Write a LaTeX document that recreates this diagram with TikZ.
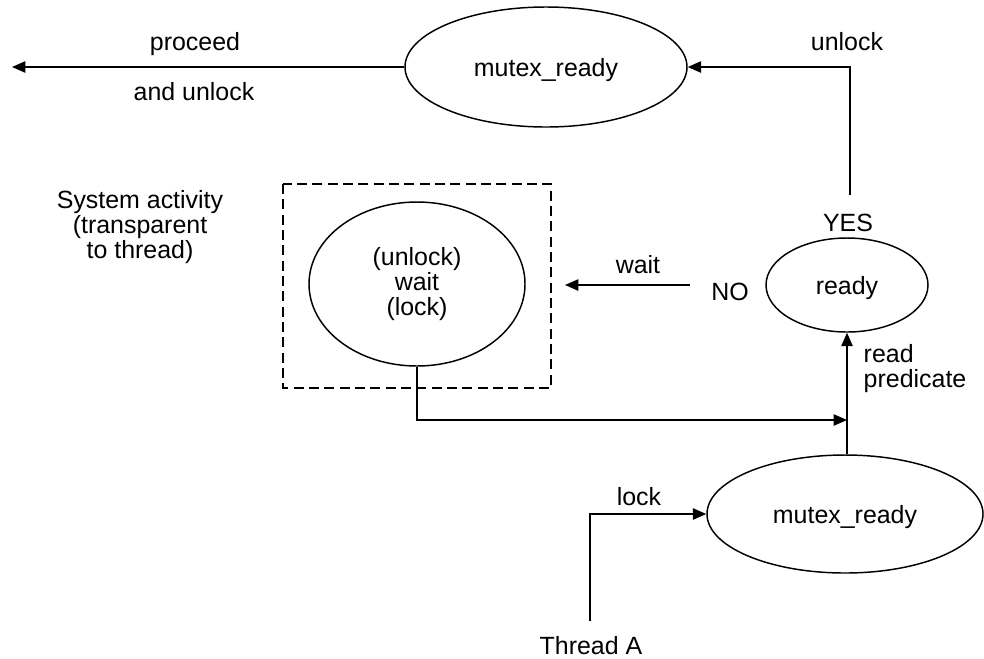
\documentclass[tikz,border=0pt]{standalone}
\usepackage{fontspec}
\setmainfont{Liberation Sans}
\usetikzlibrary{shapes.geometric,arrows.meta}
\tikzset{
  every picture/.style={line width=1.1pt},
  lbl/.style={font=\fontsize{18.7}{18.75}\selectfont, inner sep=0pt, anchor=base},
  oval/.style={draw, ellipse, inner sep=0pt, font=\fontsize{18.7}{18.75}\selectfont, text depth=0pt},
  arr/.style={-{Triangle[length=10pt,width=8.5pt]}},
  dashbox/.style={draw, dash pattern=on 7.5pt off 4pt, line width=1.1pt}
}
\begin{document}
\begin{tikzpicture}[x=0.75pt,y=-0.75pt]
\useasboundingbox (0,0) rectangle (984,658);
% nodes
\node[oval, minimum width=211.5pt, minimum height=90pt] (top) at (546,67) {mutex\_ready};
\node[oval, minimum width=121.5pt, minimum height=70.5pt] (ready) at (847,285) {ready};
\node[oval, minimum width=207pt, minimum height=88.5pt] (bot) at (845,514) {mutex\_ready};
\node[draw, ellipse, inner sep=0pt, minimum width=162pt, minimum height=123pt, align=center, font=\fontsize{18.7}{18.75}\selectfont] (waitE) at (417,284) {(unlock)\\wait\\(lock)};
\draw[dashbox] (283,184) rectangle (551,388);
% labels
\node[lbl] (proceed) at (195,50) {proceed};
\node[lbl] (andunlock) at (194,100) {and unlock};
\node[lbl] (unlock) at (847,50) {unlock};
\node[lbl] (yes) at (848,231) {YES};
\node[lbl] (no) at (730,300) {NO};
\node[lbl] (waitlbl) at (638,273) {wait};
\node[lbl, anchor=base west, align=left] (readpred) at (863,387) {read\\predicate};
\node[lbl] (lock) at (639,505) {lock};
\node[lbl] (thread) at (591,654) {Thread A};
\node[lbl, align=center] (sys) at (140,258) {System activity\\(transparent\\to thread)};
% connector ends
\coordinate (proceedEnd) at (12,67);
\coordinate (yesTop) at (850,195);
\coordinate (noEnd) at (690,285);
\coordinate (waitTip) at (565,285);
\coordinate (join) at (847,420);
\coordinate (threadTop) at (590,621);
% connectors
\draw[arr] (top) -- (proceedEnd);
\draw[arr] (yesTop) |- (top.east);
\draw[arr] (noEnd) -- (waitTip);
\draw[arr] (waitE.south) |- (join);
\draw[arr] (ready.south |- bot.north) -- (ready.south);
\draw[arr] (threadTop) |- (bot.west);
\end{tikzpicture}
\end{document}
